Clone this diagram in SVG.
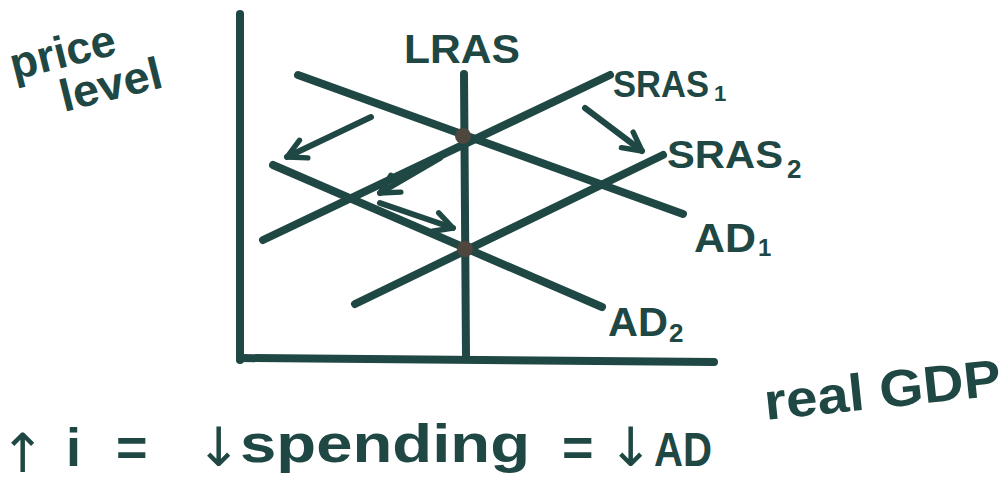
<svg xmlns="http://www.w3.org/2000/svg" width="1008" height="485" viewBox="0 0 1008 485">
<style>
.ln{stroke:#1f4743;stroke-width:8;stroke-linecap:round;fill:none}
.ar{stroke:#1f4743;stroke-width:6;stroke-linecap:round;fill:none}
.t{font-family:"Liberation Sans",Arial,sans-serif;fill:#1f4743;font-weight:bold}
.sy{font-family:"DejaVu Sans",sans-serif;fill:#1f4743}
.dot{fill:#4f473d}
</style>
<defs>
<marker id="h" markerUnits="userSpaceOnUse" markerWidth="26" markerHeight="26" refX="20" refY="12" orient="auto" viewBox="0 0 24 24">
<path d="M3,3 L20,12 L3,21" stroke="#1f4743" stroke-width="5" fill="none" stroke-linecap="round" stroke-linejoin="round"/>
</marker>
</defs>
<rect width="1008" height="485" fill="#ffffff"/>

<g id="axes">
<line class="ln" x1="240" y1="14" x2="240" y2="360"/>
<line class="ln" x1="240" y1="358" x2="714" y2="362"/>
<text class="t" font-size="45" transform="translate(14,80) rotate(-14)">price</text>
<text class="t" font-size="45" transform="translate(64,112) rotate(-14)" textLength="104" lengthAdjust="spacingAndGlyphs">level</text>
<text class="t" font-size="52" transform="translate(766,420) rotate(-6)" textLength="238" lengthAdjust="spacingAndGlyphs">real GDP</text>
</g>

<g id="lras">
<line class="ln" x1="464" y1="74" x2="466" y2="355"/>
<text class="t" font-size="40" x="404" y="63" textLength="116" lengthAdjust="spacingAndGlyphs">LRAS</text>
</g>

<g id="sras1">
<line class="ln" x1="263" y1="240" x2="610" y2="75"/>
<text class="t" font-size="36" x="613" y="97" textLength="96" lengthAdjust="spacingAndGlyphs">SRAS</text>
<text class="t" font-size="22" x="714" y="101">1</text>
</g>

<g id="sras2">
<line class="ln" x1="355" y1="304" x2="663" y2="155"/>
<text class="t" font-size="38" x="667" y="168" textLength="116" lengthAdjust="spacingAndGlyphs">SRAS</text>
<text class="t" font-size="26" x="787" y="178">2</text>
</g>

<g id="ad1">
<line class="ln" x1="298" y1="75" x2="683" y2="214"/>
<text class="t" font-size="40" x="694" y="252" textLength="62" lengthAdjust="spacingAndGlyphs">AD</text>
<text class="t" font-size="24" x="758" y="256">1</text>
</g>

<g id="ad2">
<line class="ln" x1="273" y1="165" x2="602" y2="307"/>
<text class="t" font-size="40" x="608" y="336" textLength="60" lengthAdjust="spacingAndGlyphs">AD</text>
<text class="t" font-size="26" x="669" y="342">2</text>
</g>

<g id="equilibria">
<circle class="dot" cx="463" cy="136" r="8"/>
<circle class="dot" cx="465" cy="249" r="8"/>
</g>

<g id="connectors">
<line class="ar" x1="371" y1="117" x2="287" y2="157" marker-end="url(#h)"/>
<line class="ar" x1="585" y1="108" x2="642" y2="151" marker-end="url(#h)"/>
<line class="ar" x1="440" y1="158" x2="380" y2="193" marker-end="url(#h)"/>
<line class="ar" x1="380" y1="203" x2="453" y2="228" marker-end="url(#h)"/>
</g>

<g id="equation">
<text class="sy" font-size="54" x="0" y="472">↑</text>
<text class="t" font-size="54" x="66" y="466">i</text>
<text class="t" font-size="54" x="116" y="466">=</text>
<text class="sy" font-size="54" x="196" y="466">↓</text>
<text class="t" font-size="54" x="240" y="462" textLength="290" lengthAdjust="spacingAndGlyphs">spending</text>
<text class="t" font-size="54" x="562" y="466">=</text>
<text class="sy" font-size="54" x="608" y="466">↓</text>
<text class="t" font-size="48" x="654" y="466" textLength="58" lengthAdjust="spacingAndGlyphs">AD</text>
</g>
</svg>
